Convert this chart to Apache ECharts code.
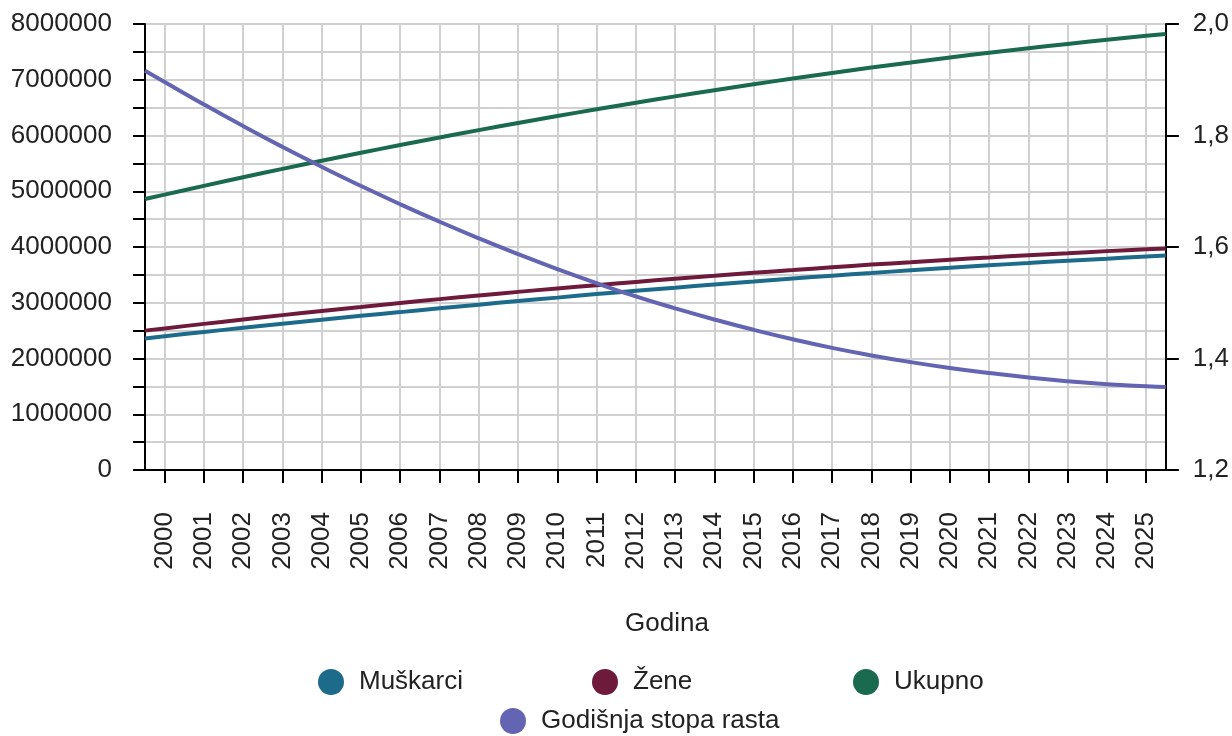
<!DOCTYPE html>
<html lang="hr">
<head>
<meta charset="UTF-8">
<title>Stanovništvo po godinama</title>
<script src="https://cdn.jsdelivr.net/npm/echarts@6/dist/echarts.min.js"></script>
</head>
<body style="margin:0">
<div id="main" style="width:1232px;height:736px;"></div>
<script>
// years shown on the axis
const years = [2000, 2001, 2002, 2003, 2004, 2005, 2006, 2007, 2008, 2009, 2010, 2011, 2012,
    2013, 2014, 2015, 2016, 2017, 2018, 2019, 2020, 2021, 2022, 2023, 2024, 2025];

// points of the lines: the axis edges plus every year
const xPoints = [1999.5, 2000, 2001, 2002, 2003, 2004, 2005, 2006, 2007, 2008, 2009, 2010, 2011, 2012,
    2013, 2014, 2015, 2016, 2017, 2018, 2019, 2020, 2021, 2022, 2023, 2024, 2025, 2025.5];

const muskarci = [2360000, 2400000, 2476000, 2550000, 2623000, 2694000, 2765000, 2832000, 2900000, 2966000,
    3030000, 3092000, 3155000, 3214000, 3271000, 3329000, 3382000, 3436000, 3486000, 3534000,
    3582000, 3627000, 3672000, 3713000, 3754000, 3791000, 3829000, 3846000];

const zene = [2500000, 2540000, 2621000, 2700000, 2778000, 2854000, 2925000, 2997000, 3065000, 3131000,
    3195000, 3257000, 3315000, 3374000, 3431000, 3484000, 3537000, 3586000, 3636000, 3684000,
    3727000, 3772000, 3812000, 3853000, 3889000, 3926000, 3959000, 3975000];

const ukupno = [4860000, 4940000, 5097000, 5250000, 5401000, 5548000, 5690000, 5829000, 5965000, 6097000,
    6225000, 6349000, 6470000, 6588000, 6702000, 6813000, 6919000, 7022000, 7122000, 7218000,
    7309000, 7399000, 7484000, 7566000, 7643000, 7717000, 7788000, 7821000];

const stopa = [1.916, 1.896, 1.8557, 1.8169, 1.7796, 1.7438, 1.7095, 1.6767, 1.6454, 1.6156,
    1.5873, 1.5605, 1.5352, 1.5114, 1.490, 1.470, 1.4515, 1.4345, 1.419, 1.4055,
    1.3935, 1.383, 1.374, 1.3658, 1.3592, 1.354, 1.3502, 1.3487];

const chart = echarts.init(document.getElementById('main'));

const textColor = '#222';
const gridColor = '#d0d0d0';

function pairs(values) {
    return xPoints.map((x, i) => [x, values[i]]);
}

function lineSeries(name, values, color, axisIndex) {
    return {
        name: name,
        type: 'line',
        yAxisIndex: axisIndex,
        data: pairs(values),
        smooth: true,
        showSymbol: false,
        color: color,
        lineStyle: { width: 4, color: color },
        itemStyle: { color: color }
    };
}

const legendBase = {
    icon: 'circle',
    itemWidth: 26,
    itemHeight: 26,
    padding: 0,
    textStyle: { fontSize: 26, color: textColor, padding: [0, 0, 0, 10] }
};

chart.setOption({
    animation: false,
    backgroundColor: '#fff',
    textStyle: { fontFamily: '"Liberation Sans", Arial, sans-serif' },
    grid: { left: 145, right: 66, top: 24, bottom: 266 },
    legend: [
        { data: ['Muškarci'], left: 318, top: 669 },
        { data: ['Žene'], left: 592, top: 669 },
        { data: ['Ukupno'], left: 853, top: 669 },
        { data: ['Godišnja stopa rasta'], left: 500, top: 708 }
    ].map(l => Object.assign({}, legendBase, l)),
    xAxis: {
        type: 'value',
        min: 1999.5,
        max: 2025.5,
        name: 'Godina',
        nameLocation: 'middle',
        nameGap: 141,
        nameTextStyle: { fontSize: 26, color: textColor, padding: [0, 0, 0, 23] },
        axisLine: { show: true, lineStyle: { color: '#000', width: 2 } },
        axisTick: { show: true, customValues: years, length: 13, lineStyle: { color: '#000', width: 2 } },
        axisLabel: {
            customValues: years,
            rotate: 90,
            margin: 42,
            fontSize: 26,
            color: textColor,
            formatter: v => String(v)
        },
        splitLine: { show: true, lineStyle: { color: gridColor, width: 2 } }
    },
    yAxis: [
        {
            type: 'value',
            position: 'left',
            min: 0,
            max: 8000000,
            interval: 500000,
            axisLine: { show: true, lineStyle: { color: '#000', width: 2 } },
            axisTick: { show: true, length: 12, lineStyle: { color: '#000', width: 2 } },
            axisLabel: {
                fontSize: 26,
                color: textColor,
                margin: 33,
                formatter: v => (v % 1000000 === 0 ? String(v) : '')
            },
            splitLine: { show: true, lineStyle: { color: gridColor, width: 2 } }
        },
        {
            type: 'value',
            position: 'right',
            min: 1.2,
            max: 2.0,
            interval: 0.2,
            axisLine: { show: true, lineStyle: { color: '#000', width: 2 } },
            axisTick: { show: true, length: 13, lineStyle: { color: '#000', width: 2 } },
            axisLabel: {
                fontSize: 26,
                color: textColor,
                margin: 27,
                formatter: v => v.toFixed(1).replace('.', ',')
            },
            splitLine: { show: false }
        }
    ],
    series: [
        lineSeries('Muškarci', muskarci, '#1c6b8b', 0),
        lineSeries('Žene', zene, '#6d1a3b', 0),
        lineSeries('Ukupno', ukupno, '#196a4f', 0),
        lineSeries('Godišnja stopa rasta', stopa, '#6365b3', 1)
    ]
});
</script>
</body>
</html>
